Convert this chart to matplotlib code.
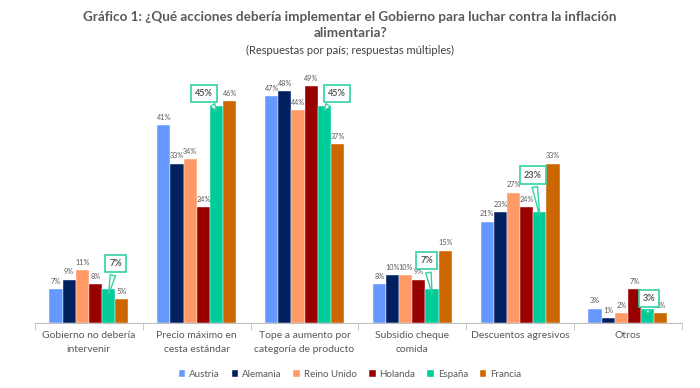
import numpy as np
import matplotlib
matplotlib.use("Agg")
from matplotlib import pyplot as plt

plt.rcParams['font.family'] = ['Lato', 'DejaVu Sans']

categorias = ["Gobierno no debería\nintervenir", "Precio máximo en\ncesta estándar",
              "Tope a aumento por\ncategoría de producto", "Subsidio cheque\ncomida",
              "Descuentos agresivos", "Otros"]
paises = ["Austria", "Alemania", "Reino Unido", "Holanda", "España", "Francia"]

austria = [7, 41, 47, 8, 21, 3]
alemania = [9, 33, 48, 10, 23, 1]
reino_unido = [11, 34, 44, 10, 27, 2]
holanda = [8, 24, 49, 9, 24, 7]
espana = [7, 45, 45, 7, 23, 3]
francia = [5, 46, 37, 15, 33, 2]

series = [austria, alemania, reino_unido, holanda, espana, francia]
colores = ["#6699FF", "#002060", "#FF9966", "#990000", "#00CC99", "#CC6600"]

# desplazamiento (puntos) de los globos de España
globos = [(5, 22), (-9, 12), (9, 12), (-4, 24), (-5, 30), (1, 11)]

fig = plt.figure(figsize=(7, 3.88), dpi=100)
ax = fig.add_axes([0.05, 0.1675, 0.924, 0.6475])

x = np.arange(len(categorias))
w = 0.122
gris = "#595959"

for i, (vals, col, nom) in enumerate(zip(series, colores, paises)):
    xs = x + (i - 2.5) * w
    ax.bar(xs, vals, w, color=col, label=nom, edgecolor="white", linewidth=0.3)
    for xi, v, g in zip(xs, vals, globos):
        if nom == "España":
            ax.annotate(f"{v}%", xy=(xi, v - 1), xytext=g, textcoords="offset points",
                        ha="center", va="center", fontsize=6.5, fontweight="bold", color=gris,
                        bbox=dict(boxstyle="square,pad=0.45", fc="white", ec="#33D1A6", lw=1.2),
                        arrowprops=dict(arrowstyle="wedge,tail_width=0.6,shrink_factor=0.5",
                                        fc="white", ec="#33D1A6", lw=1.0, shrinkB=0),
                        zorder=5)
        else:
            ax.annotate(f"{v}%", xy=(xi, v), xytext=(0, 3), textcoords="offset points",
                        ha="center", va="bottom", fontsize=5.2, color=gris)

ax.set_xlim(-0.5, len(categorias) - 0.5)
ax.set_ylim(0, 52)
ax.set_yticks([])
for s in ["top", "right", "left"]:
    ax.spines[s].set_visible(False)
ax.spines["bottom"].set_color("#BFBFBF")
ax.set_xticks(x)
ax.set_xticklabels(categorias, fontsize=7.5, color=gris, linespacing=1.6)
ax.set_xticks(np.arange(len(categorias) + 1) - 0.5, minor=True)
ax.tick_params(axis="x", which="major", length=0, pad=6)
ax.tick_params(axis="x", which="minor", length=5, color="#BFBFBF")

fig.legend(loc="lower center", bbox_to_anchor=(0.5, 0.0), ncol=6, frameon=False,
           fontsize=7, labelcolor=gris, handlelength=0.7, handleheight=0.7,
           handletextpad=0.4, columnspacing=1.2)

fig.text(0.5, 0.935, "Gráfico 1: ¿Qué acciones debería implementar el Gobierno para luchar contra la inflación\nalimentaria?",
         ha="center", va="center", fontsize=9.7, fontweight="bold", color=gris, linespacing=1.4)
fig.text(0.5, 0.87, "(Respuestas por país; respuestas múltiples)", ha="center", va="center",
         fontsize=8, color="#404040")

fig.savefig("out.png", dpi=100)
